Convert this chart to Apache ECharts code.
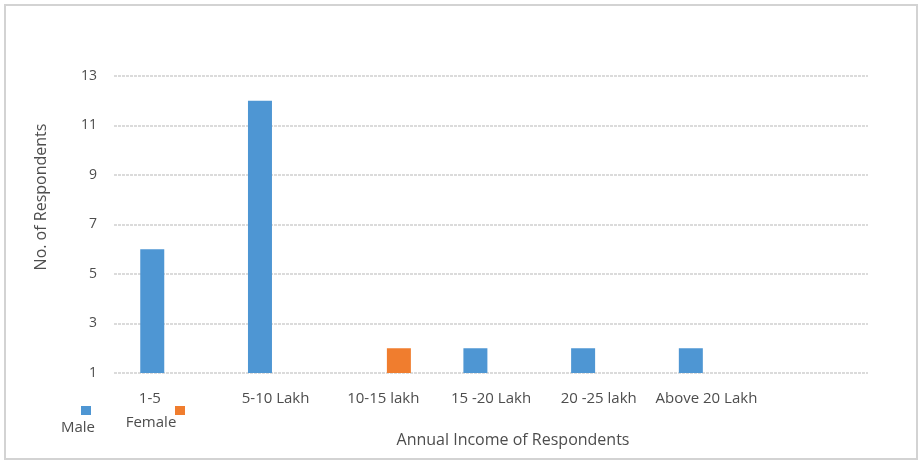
<!DOCTYPE html>
<html>
<head>
<meta charset="utf-8">
<script src="https://cdn.jsdelivr.net/npm/echarts@6/dist/echarts.min.js"></script>
<style>
html,body{margin:0;padding:0;background:#fff;}
#c{width:922px;height:461px;}
</style>
</head>
<body>
<div id="c"></div>
<script>
const categories = ['1-5', '5-10 Lakh', '10-15 lakh', '15 -20 Lakh', '20 -25 lakh', 'Above 20 Lakh', ''];
const maleValues = [6, 12, null, 2, 2, 2, null];
const femaleValues = [null, null, 2, null, null, null, null];
const seriesNames = ['Male', 'Female'];
const yTicks = { min: 1, max: 13, interval: 2 };
const xTitle = 'Annual Income of Respondents';
const yTitle = 'No. of Respondents';

const FONT = '"Open Sans", "Liberation Sans", sans-serif';
const TXT = '#4d4d4d';
const BLUE = '#4e96d3';
const ORANGE = '#f07d2e';

const chart = echarts.init(document.getElementById('c'));
chart.setOption({
  animation: false,
  backgroundColor: '#fff',
  grid: { left: 114, right: 54, top: 76, bottom: 88, containLabel: false },
  xAxis: {
    type: 'category',
    data: categories.map((c, i) => i === 0
      ? { value: c, textStyle: { padding: [0, 36, 0, 0] } }
      : c),
    axisLine: { show: false },
    axisTick: { show: false },
    axisLabel: { color: TXT, fontFamily: FONT, fontSize: 15, margin: 18, interval: 0 }
  },
  yAxis: {
    type: 'value',
    min: yTicks.min,
    max: yTicks.max,
    interval: yTicks.interval,
    axisLine: { show: false },
    axisTick: { show: false },
    axisLabel: { color: TXT, fontFamily: FONT, fontSize: 14, margin: 17 },
    splitLine: { lineStyle: { color: '#cfcfcf', width: 1.5, type: [3, 1] } }
  },
  series: [
    { name: seriesNames[0], type: 'bar', data: maleValues, barWidth: 24, barGap: '30%',
      itemStyle: { color: BLUE } },
    { name: seriesNames[1], type: 'bar', data: femaleValues, barWidth: 24, barGap: '30%',
      itemStyle: { color: ORANGE } }
  ],
  graphic: [
    { type: 'rect', shape: { x: 5, y: 5, width: 912, height: 454 },
      style: { fill: 'none', stroke: '#d3d3d3', lineWidth: 2 }, silent: true },
    { type: 'text', x: 513, y: 440,
      style: { text: xTitle, fill: TXT, font: '16px ' + FONT, align: 'center', verticalAlign: 'middle' } },
    { type: 'text', x: 41, y: 197, rotation: Math.PI / 2,
      style: { text: yTitle, fill: TXT, font: '16px ' + FONT, align: 'center', verticalAlign: 'middle' } },
    { type: 'rect', shape: { x: 81, y: 406, width: 10, height: 9 }, style: { fill: BLUE } },
    { type: 'text', x: 78, y: 428,
      style: { text: seriesNames[0], fill: TXT, font: '15px ' + FONT, align: 'center', verticalAlign: 'middle' } },
    { type: 'rect', shape: { x: 175, y: 406, width: 10, height: 9 }, style: { fill: ORANGE } },
    { type: 'text', x: 151, y: 423,
      style: { text: seriesNames[1], fill: TXT, font: '15px ' + FONT, align: 'center', verticalAlign: 'middle' } }
  ]
});
</script>
</body>
</html>
